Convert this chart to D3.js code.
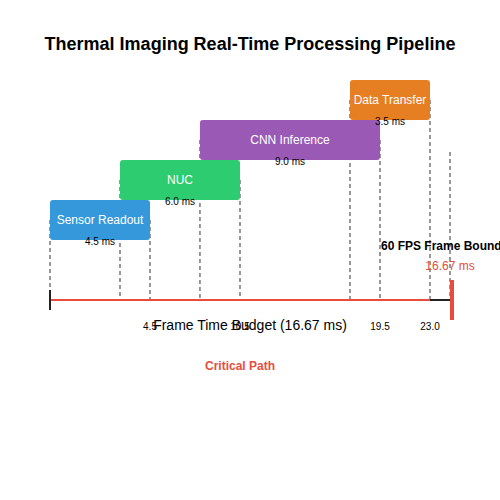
<!DOCTYPE html>
<html><head><meta charset="utf-8">
<script src="https://cdn.jsdelivr.net/npm/d3@7"></script>
<style>body{margin:0;background:#fff}text{font-family:"Liberation Sans",Arial,sans-serif}</style>
</head><body><svg id="c" width="500" height="500"></svg>
<script>
var stages = ["Sensor Readout", "NUC", "CNN Inference", "Data Transfer"];
var starts = [0, 3.15, 7.83, 17.57];
var ends = [4.5, 10.5, 19.5, 23.0];
var durations = ["4.5 ms", "6.0 ms", "9.0 ms", "3.5 ms"];
var colors = ["#3498db", "#2ecc71", "#9b59b6", "#e67e22"];
var tickVals = [4.5, 10.5, 19.5, 23.0];
var boundaryPos = 24.4, boundaryLabel = "16.67 ms";

var svg = d3.select('#c');
var x = d3.scaleLinear().domain([0, 4.5, 10.5, 19.5, 23, 24.4]).range([50, 150, 240, 380, 430, 450]);
var y = d3.scaleBand().domain(stages).range([240, 80]);
var axisY = 300;

svg.append('text').attr('x', 250).attr('y', 50).attr('text-anchor', 'middle')
    .attr('font-size', 18).attr('font-weight', 'bold').text('Thermal Imaging Real-Time Processing Pipeline');

// dashed guides from bar middle
stages.forEach(function (s, i) {
    [starts[i], ends[i]].forEach(function (v) {
        svg.append('line').attr('x1', x(v)).attr('x2', x(v))
            .attr('y1', y(s) + y.bandwidth() / 2).attr('y2', axisY)
            .attr('stroke', '#777').attr('stroke-width', 1.5).attr('stroke-dasharray', '4,3');
    });
});
svg.append('line').attr('x1', x(boundaryPos)).attr('x2', x(boundaryPos))
    .attr('y1', 152).attr('y2', axisY)
    .attr('stroke', '#777').attr('stroke-width', 1.5).attr('stroke-dasharray', '4,3');

var g = svg.selectAll('g.bar').data(stages).enter().append('g');
g.append('rect').attr('x', function (d, i) { return x(starts[i]); })
    .attr('y', function (d) { return y(d); })
    .attr('width', function (d, i) { return x(ends[i]) - x(starts[i]); })
    .attr('height', y.bandwidth()).attr('rx', 3)
    .attr('fill', function (d, i) { return colors[i]; });
g.append('text').attr('x', function (d, i) { return (x(starts[i]) + x(ends[i])) / 2; })
    .attr('y', function (d) { return y(d) + y.bandwidth() / 2 + 4; })
    .attr('text-anchor', 'middle').attr('fill', '#fff').attr('font-size', 12).text(function (d) { return d; });
g.append('text').attr('x', function (d, i) { return (x(starts[i]) + x(ends[i])) / 2; })
    .attr('y', function (d) { return y(d) + y.bandwidth() + 5; })
    .attr('text-anchor', 'middle').attr('fill', '#000').attr('font-size', 10).text(function (d, i) { return durations[i]; });

// axis
svg.append('line').attr('x1', x(0)).attr('x2', x(boundaryPos)).attr('y1', axisY).attr('y2', axisY)
    .attr('stroke', '#222').attr('stroke-width', 2);
svg.append('line').attr('x1', x(0)).attr('x2', x(23)).attr('y1', axisY).attr('y2', axisY)
    .attr('stroke', '#e74c3c').attr('stroke-width', 2);
svg.append('line').attr('x1', x(0)).attr('x2', x(0)).attr('y1', axisY - 10).attr('y2', axisY + 10)
    .attr('stroke', '#222').attr('stroke-width', 2);
svg.append('line').attr('x1', x(boundaryPos) + 2).attr('x2', x(boundaryPos) + 2).attr('y1', axisY - 20).attr('y2', axisY + 20)
    .attr('stroke', '#e74c3c').attr('stroke-width', 4);
tickVals.forEach(function (v) {
    svg.append('text').attr('x', x(v)).attr('y', axisY + 30).attr('text-anchor', 'middle')
        .attr('font-size', 10).text(v.toFixed(1));
});
svg.append('text').attr('x', 250).attr('y', axisY + 30).attr('text-anchor', 'middle')
    .attr('font-size', 14).text('Frame Time Budget (16.67 ms)');
svg.append('text').attr('x', 240).attr('y', 370).attr('text-anchor', 'middle')
    .attr('font-size', 12).attr('font-weight', 'bold').attr('fill', '#e74c3c').text('Critical Path');
svg.append('text').attr('x', 381).attr('y', 250).attr('font-size', 12).attr('font-weight', 'bold')
    .text('60 FPS Frame Boundary');
svg.append('text').attr('x', x(boundaryPos)).attr('y', 270).attr('text-anchor', 'middle')
    .attr('font-size', 12).attr('fill', '#e74c3c').text(boundaryLabel);
</script></body></html>
